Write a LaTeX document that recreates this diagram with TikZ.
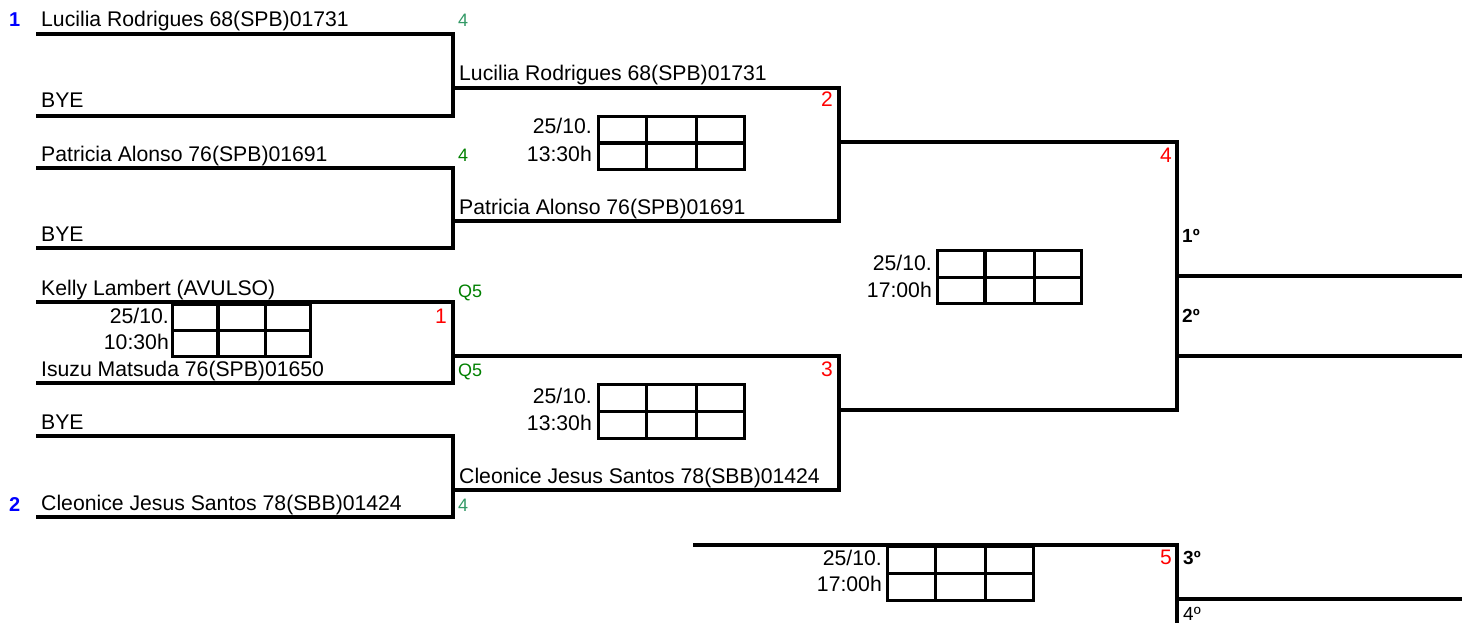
\documentclass[tikz,border=0pt]{standalone}
\usepackage{fontspec}
\setmainfont{Liberation Sans}
\usetikzlibrary{calc}
\definecolor{grnA}{RGB}{51,153,102}
\definecolor{grnB}{RGB}{0,128,0}
\definecolor{seedblue}{RGB}{0,0,255}
\definecolor{matchred}{RGB}{255,0,0}
\begin{document}
\begin{tikzpicture}[x=1pt,y=-1pt,
  bracket/.style={line width=3.2pt, line join=miter},
  nm/.style={anchor=base west, inner sep=0pt, font=\fontsize{21.2}{25}\selectfont},
  tl/.style={anchor=base east, inner sep=0pt, font=\fontsize{21.2}{25}\selectfont},
  grn/.style={anchor=base west, inner sep=0pt, font=\fontsize{18}{21}\selectfont},
  rd/.style={anchor=base east, inner sep=0pt, text=matchred, font=\fontsize{21}{25}\selectfont},
  seed/.style={anchor=base west, inner sep=0pt, text=seedblue, font=\fontsize{20}{24}\selectfont\bfseries},
  plc/.style={anchor=base west, inner sep=0pt, font=\fontsize{19}{22}\selectfont\bfseries},
  scorebox/.style={draw, line width=3.2pt, rectangle, inner sep=0pt, anchor=north west}
]
\useasboundingbox (0,0) rectangle (1467,623);

% ---------- coordinates ----------
\coordinate (a1) at (36,34);   \coordinate (a2) at (36,116);
\coordinate (b1) at (36,168);  \coordinate (b2) at (36,248);
\coordinate (c1) at (36,302);  \coordinate (c2) at (36,383);
\coordinate (d1) at (36,436);  \coordinate (d2) at (36,517);
\coordinate (ja1) at (453,34); \coordinate (ja2) at (453,116);
\coordinate (jb1) at (453,168);\coordinate (jb2) at (453,248);
\coordinate (jc1) at (453,302);\coordinate (jc2) at (453,383);
\coordinate (jd1) at (453,436);\coordinate (jd2) at (453,517);
\coordinate (r2a) at (453,88);  \coordinate (r2b) at (453,221);
\coordinate (r2c) at (453,356); \coordinate (r2d) at (453,490);
\coordinate (k2a) at (839,88);  \coordinate (k2b) at (839,221);
\coordinate (k2c) at (839,356); \coordinate (k2d) at (839,490);
\coordinate (r3a) at (839,142); \coordinate (r3b) at (839,410);
\coordinate (k3a) at (1177,142);\coordinate (k3b) at (1177,410);
\coordinate (f1) at (1177,276); \coordinate (f1e) at (1462,276);
\coordinate (f2) at (1177,356); \coordinate (f2e) at (1462,356);
\coordinate (t3s) at (693,545); \coordinate (t3k) at (1177,545);
\coordinate (t3b) at (1177,623);
\coordinate (t4) at (1177,599); \coordinate (t4e) at (1462,599);

% ---------- brackets ----------
\draw[bracket] (a1) -- (ja1) -- (ja2) -- (a2);
\draw[bracket] (b1) -- (jb1) -- (jb2) -- (b2);
\draw[bracket] (c1) -- (jc1) -- (jc2) -- (c2);
\draw[bracket] (d1) -- (jd1) -- (jd2) -- (d2);
\draw[bracket] (r2a) -- (k2a) -- (k2b) -- (r2b);
\draw[bracket] (r2c) -- (k2c) -- (k2d) -- (r2d);
\draw[bracket] (r3a) -- (k3a) -- (k3b) -- (r3b);
\draw[bracket] (f1) -- (f1e);
\draw[bracket] (f2) -- (f2e);
\draw[bracket] (t3s) -- (t3k) -- (t3b);
\draw[bracket] (t4) -- (t4e);

% ---------- score tables ----------
\foreach \n/\x/\y/\w/\h in {s1/171/303/138/52, s2/597/115/146/53, s3/597/383/146/54, s4/936/249/144/53, s5/886/545/146/54}{
  \node[scorebox, minimum width=\w pt, minimum height=\h pt] (\n) at (\x,\y) {};
  \draw[line width=3.2pt] (\n.west) -- (\n.east);
  \draw[line width=3.2pt] ($(\n.north west)!1/3!(\n.north east)$) -- ($(\n.south west)!1/3!(\n.south east)$);
  \draw[line width=3.2pt] ($(\n.north west)!2/3!(\n.north east)$) -- ($(\n.south west)!2/3!(\n.south east)$);
}

% ---------- round 1 names ----------
\node[seed] (sd1) at (9,27) {1};
\node[nm] (n1) at (41,27) {Lucilia Rodrigues 68(SPB)01731};
\node[nm] (n2) at (41,108) {BYE};
\node[nm] (n3) at (41,161) {Patricia Alonso 76(SPB)01691};
\node[nm] (n4) at (41,241) {BYE};
\node[nm] (n5) at (41,295) {Kelly Lambert (AVULSO)};
\node[nm] (n6) at (41,376) {Isuzu Matsuda 76(SPB)01650};
\node[nm] (n7) at (41,429) {BYE};
\node[seed] (sd2) at (9,511) {2};
\node[nm] (n8) at (41,510) {Cleonice Jesus Santos 78(SBB)01424};

% ---------- round 2 names ----------
\node[nm] (m1) at (459,81) {Lucilia Rodrigues 68(SPB)01731};
\node[nm] (m2) at (459,214) {Patricia Alonso 76(SPB)01691};
\node[nm] (m4) at (459,483) {Cleonice Jesus Santos 78(SBB)01424};

% ---------- green marks ----------
\node[grn, text=grnA] (g1) at (458,27) {4};
\node[grn, text=grnB] (g2) at (458,161) {4};
\node[grn, text=grnB] (g3) at (458,297) {Q5};
\node[grn, text=grnB] (g4) at (458,376) {Q5};
\node[grn, text=grnA] (g5) at (458,511) {4};

% ---------- match numbers ----------
\node[rd] (mn1) at (447,323) {1};
\node[rd] (mn2) at (833,107) {2};
\node[rd] (mn3) at (833,376) {3};
\node[rd] (mn4) at (1172,163) {4};
\node[rd] (mn5) at (1172,564) {5};

% ---------- dates / times ----------
\node[tl] (d1a) at (169,323) {25/10.};
\node[tl] (d1b) at (169,349) {10:30h};
\node[tl] (d2a) at (592,134) {25/10.};
\node[tl] (d2b) at (592,161) {13:30h};
\node[tl] (d3a) at (592,403) {25/10.};
\node[tl] (d3b) at (592,430) {13:30h};
\node[tl] (d4a) at (932,270) {25/10.};
\node[tl] (d4b) at (932,297) {17:00h};
\node[tl] (d5a) at (882,565) {25/10.};
\node[tl] (d5b) at (882,591) {17:00h};

% ---------- places ----------
\node[plc] (p1) at (1182,242) {1º};
\node[plc] (p2) at (1182,322) {2º};
\node[plc] (p3) at (1183,564) {3º};
\node[plc, font=\fontsize{19}{22}\selectfont] (p4) at (1183,620) {4º};
\end{tikzpicture}
\end{document}
